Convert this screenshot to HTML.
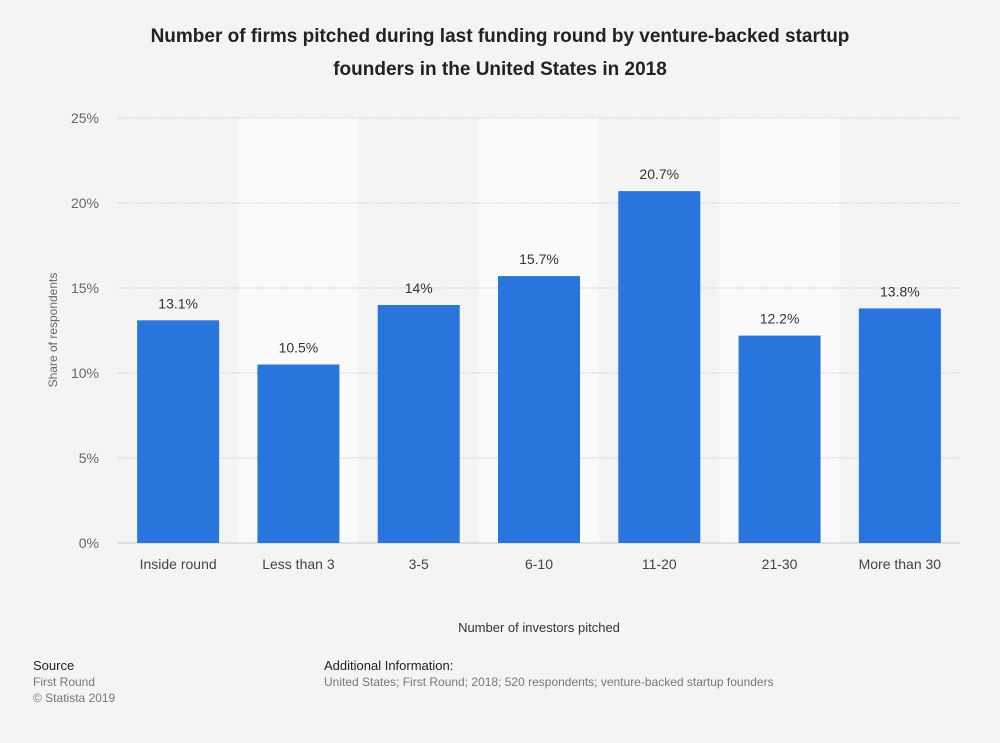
<!DOCTYPE html>
<html><head><meta charset="utf-8"><style>
body{margin:0;background:#f4f4f4;font-family:"Liberation Sans",Arial,sans-serif;}
svg{display:block}
</style></head><body>
<svg id="chart" width="1000" height="743" xmlns="http://www.w3.org/2000/svg">
<rect width="1000" height="743" fill="#f4f4f4"/>
<text x="500" y="42" text-anchor="middle" font-size="19" font-weight="bold" fill="#222">Number of firms pitched during last funding round by venture-backed startup</text>
<text x="500" y="75" text-anchor="middle" font-size="19" font-weight="bold" fill="#222">founders in the United States in 2018</text>
<g id="bands"></g><g id="grid"></g><g id="bars"></g><g id="labels"></g>
<text transform="translate(57,330) rotate(-90)" text-anchor="middle" font-size="12" fill="#666">Share of respondents</text>
<text x="539" y="632" text-anchor="middle" font-size="13" fill="#333">Number of investors pitched</text>
<text x="33" y="670" font-size="13" fill="#222">Source</text>
<text x="33" y="686" font-size="12" fill="#777">First Round</text>
<text x="33" y="702" font-size="12" fill="#777">© Statista 2019</text>
<text x="324" y="670" font-size="13" fill="#222">Additional Information:</text>
<text x="324" y="686" font-size="12" fill="#777">United States; First Round; 2018; 520 respondents; venture-backed startup founders</text>
</svg>
<script>
const categories=["Inside round","Less than 3","3-5","6-10","11-20","21-30","More than 30"];
const values=[13.1,10.5,14,15.7,20.7,12.2,13.8];
const valueLabels=["13.1%","10.5%","14%","15.7%","20.7%","12.2%","13.8%"];
const yTicks=[0,5,10,15,20,25];
const NS="http://www.w3.org/2000/svg";
const x0=118,x1=960,yBase=543,yTop=118,yMax=25;
const band=(x1-x0)/categories.length;
const y=v=>yBase-(v/yMax)*(yBase-yTop);
const xc=i=>x0+band*(i+0.5);
function mk(tag,attrs,parent,txt){const e=document.createElementNS(NS,tag);for(const k in attrs)e.setAttribute(k,attrs[k]);if(txt!=null)e.textContent=txt;document.getElementById(parent).appendChild(e);return e;}
categories.forEach((c,i)=>{if(i%2===1){const r=mk('rect',{x:x0+band*i,y:yTop,width:band,height:yBase-yTop,fill:'#fafafa'},'bands');

}});
yTicks.forEach(t=>{const l=mk('line',{x1:x0,x2:x1,y1:y(t),y2:y(t),stroke:'#c8c8c8','stroke-dasharray':t===0?'':'1.5,1.5','stroke-width':1},'grid');


const tx=mk('text',{x:99,y:y(t)+5,'text-anchor':'end','font-size':14,fill:'#666'},'grid',t+'%');

});
categories.forEach((c,i)=>{const bw=82;
const r=mk('rect',{x:xc(i)-bw/2,y:y(values[i]),width:bw,height:yBase-y(values[i]),fill:'#2876dd'},'bars');


const v=mk('text',{x:xc(i),y:y(values[i])-12,'text-anchor':'middle','font-size':14,fill:'#333'},'labels',valueLabels[i]);


const cl=mk('text',{x:xc(i),y:569,'text-anchor':'middle','font-size':14,fill:'#444'},'labels',c);

});
</script>
</body></html>
